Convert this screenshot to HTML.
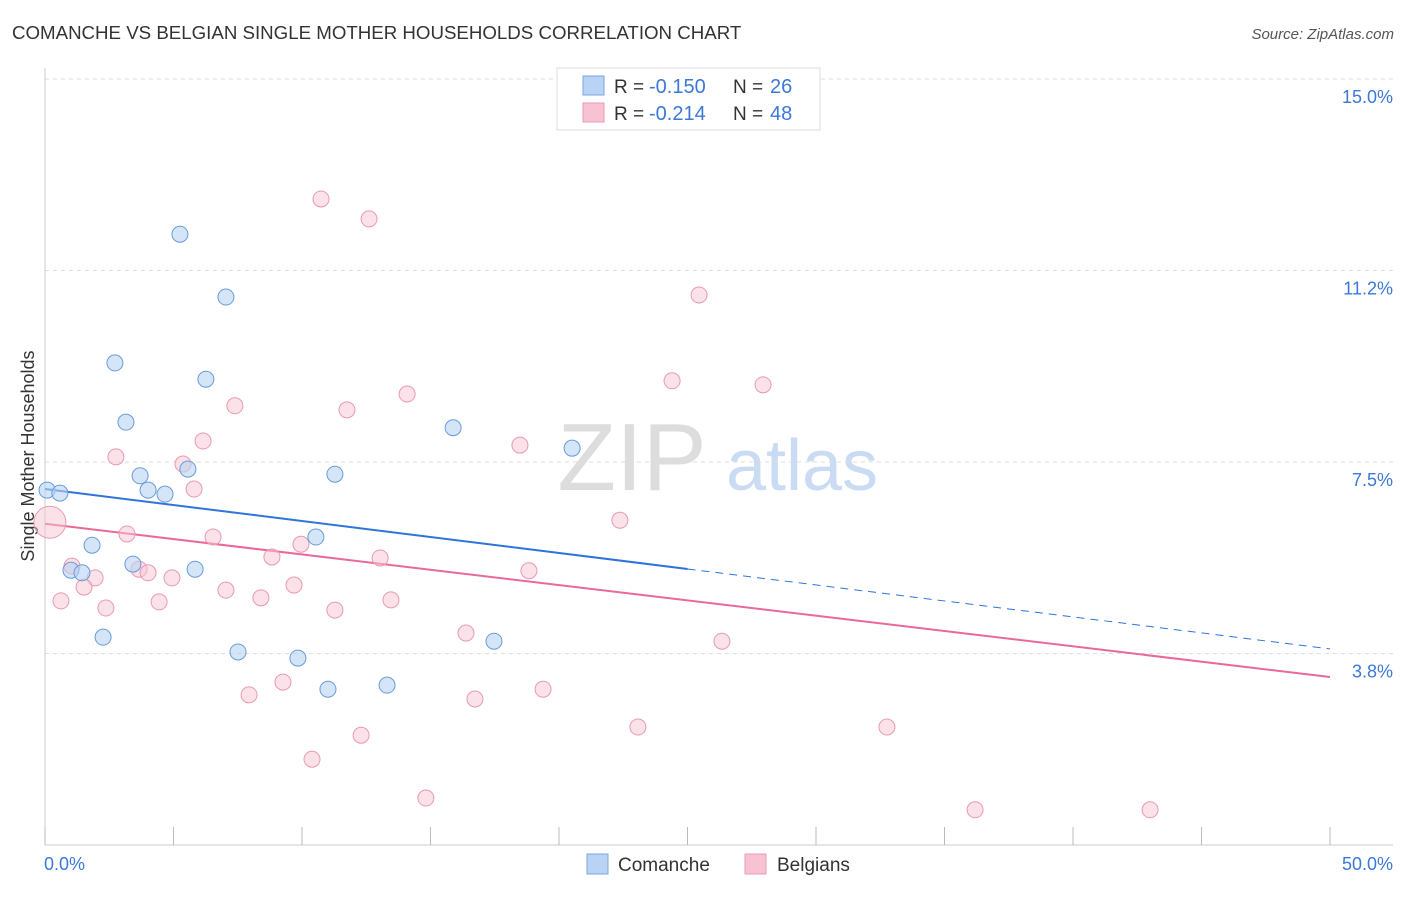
<!DOCTYPE html>
<html><head><meta charset="utf-8">
<style>
body{margin:0;background:#fff;font-family:"Liberation Sans",sans-serif;}
svg text{font-family:"Liberation Sans",sans-serif;}
</style></head>
<body>
<svg id="chart" width="1406" height="892" xmlns="http://www.w3.org/2000/svg">
<text x="12" y="39" font-size="18.7" fill="#333">COMANCHE VS BELGIAN SINGLE MOTHER HOUSEHOLDS CORRELATION CHART</text>
<text x="1394" y="39" font-size="15" fill="#555" font-style="italic" text-anchor="end">Source: ZipAtlas.com</text>
<g>
<text x="632" y="490" font-size="96" font-family="Liberation Serif" fill="#ddd" text-anchor="middle">ZIP</text>
<text x="802" y="490" font-size="72" fill="#c9dcf3" text-anchor="middle">atlas</text>
</g>
<g id="grid"></g>
<line x1="45" y1="68" x2="45" y2="845" stroke="#ccc"/>
<line x1="45" y1="845" x2="1393" y2="845" stroke="#ccc"/>
<g id="xticks"></g>
<text x="44" y="870" font-size="18" fill="#3b78d8">0.0%</text>
<text x="1393" y="870" font-size="18" fill="#3b78d8" text-anchor="end">50.0%</text>
<text transform="translate(34,456) rotate(-90)" font-size="18" fill="#333" text-anchor="middle">Single Mother Households</text>
<g id="lines"></g>
<g id="points"></g>
<g>
<rect x="557" y="68" width="263" height="62" fill="#fff" stroke="#ddd"/>
<rect x="583" y="76" width="21" height="19" fill="#b8d3f3" stroke="#7aa6e0"/>
<rect x="583" y="103" width="21" height="19" fill="#f7c3d2" stroke="#e89ab3"/>
<text x="614" y="93" font-size="19" fill="#333">R =</text>
<text x="649" y="93" font-size="20" fill="#3b78d8">-0.150</text>
<text x="733" y="93" font-size="19" fill="#333">N =</text>
<text x="770" y="93" font-size="20" fill="#3b78d8">26</text>
<text x="614" y="120" font-size="19" fill="#333">R =</text>
<text x="649" y="120" font-size="20" fill="#3b78d8">-0.214</text>
<text x="733" y="120" font-size="19" fill="#333">N =</text>
<text x="770" y="120" font-size="20" fill="#3b78d8">48</text>
</g>
<g>
<rect x="587" y="854" width="21" height="20" fill="#b8d3f3" stroke="#7aa6e0"/>
<text x="618" y="871" font-size="19" fill="#333">Comanche</text>
<rect x="745" y="854" width="21" height="20" fill="#f7c3d2" stroke="#e89ab3"/>
<text x="777" y="871" font-size="19" fill="#333">Belgians</text>
</g>
</svg>
<script>
const yTicks=[15.0,11.25,7.5,3.75];
const yTickLabels=["15.0%","11.2%","7.5%","3.8%"];
const xTicks=[0,5,10,15,20,25,30,35,40,45,50];
const blueX=[0.08,0.58,5.25,7.04,2.72,6.26,3.15,3.70,4.01,4.67,5.56,1.83,1.01,1.44,3.42,5.84,2.26,7.51,9.84,11.01,13.31,10.54,11.28,15.88,20.51,17.47];
const blueY=[6.95,6.89,11.96,10.73,9.44,9.12,8.28,7.23,6.95,6.87,7.36,5.87,5.38,5.33,5.50,5.40,4.07,3.78,3.66,3.05,3.13,6.03,7.26,8.17,7.77,3.99];
const pinkX=[0.19,10.74,12.61,25.45,24.40,27.94,7.39,11.75,14.09,6.15,2.76,5.37,5.80,18.48,22.37,3.19,6.54,9.96,8.83,13.04,1.05,3.66,1.95,4.01,4.94,1.52,18.83,0.62,2.37,4.44,7.04,8.40,9.69,11.28,13.46,16.38,26.34,7.94,9.26,16.73,19.38,12.30,10.39,23.07,32.76,14.82,36.19,43.00];
const pinkY=[6.32,12.65,12.26,10.77,9.09,9.01,8.60,8.52,8.83,7.91,7.60,7.46,6.97,7.83,6.36,6.09,6.03,5.89,5.64,5.62,5.46,5.40,5.23,5.33,5.23,5.05,5.37,4.78,4.64,4.76,4.99,4.84,5.09,4.60,4.80,4.15,3.99,2.94,3.19,2.86,3.05,2.15,1.68,2.31,2.31,0.92,0.69,0.69];
const pinkR=[16,8,8,8,8,8,8,8,8,8,8,8,8,8,8,8,8,8,8,8,8,8,8,8,8,8,8,8,8,8,8,8,8,8,8,8,8,8,8,8,8,8,8,8,8,8,8,8];
const blueTrend=[6.97,3.84];
const pinkTrend=[6.29,3.29];
const blueSolidEnd=25;
const NS="http://www.w3.org/2000/svg";
const sx=v=>45+v*25.7;
const sy=v=>845-v*51.07;
function mk(tag,attrs,parent){const e=document.createElementNS(NS,tag);for(const k in attrs)e.setAttribute(k,attrs[k]);document.getElementById(parent).appendChild(e);return e;}
yTicks.forEach((t,i)=>{
 const l=mk('line',{x1:45,x2:1393,y1:sy(t),y2:sy(t),stroke:'#ddd','stroke-dasharray':'4,4'},'grid');
 
 
 const tx=mk('text',{x:1393,y:sy(t)+24,'font-size':18,fill:'#3b78d8','text-anchor':'end'},'grid');
 tx.textContent=yTickLabels[i];
 
 
});
xTicks.forEach(t=>{
 const l=mk('line',{x1:sx(t),x2:sx(t),y1:827,y2:845,stroke:'#bbb'},'xticks');
 
 
});
const by=x=>blueTrend[0]+(blueTrend[1]-blueTrend[0])*x/50;
const py=x=>pinkTrend[0]+(pinkTrend[1]-pinkTrend[0])*x/50;
let l1=mk('line',{x1:sx(0),y1:sy(by(0)),x2:sx(blueSolidEnd),y2:sy(by(blueSolidEnd)),stroke:'#2f74d8','stroke-width':2},'lines');


let l2=mk('line',{x1:sx(blueSolidEnd),y1:sy(by(blueSolidEnd)),x2:sx(50),y2:sy(by(50)),stroke:'#2f74d8','stroke-width':1,'stroke-dasharray':'8,6'},'lines');


let l3=mk('line',{x1:sx(0),y1:sy(py(0)),x2:sx(50),y2:sy(py(50)),stroke:'#e8699a','stroke-width':2},'lines');


pinkX.forEach((x,i)=>{
 const c=mk('circle',{cx:sx(x),cy:sy(pinkY[i]),r:pinkR[i],fill:'#f7c3d2','fill-opacity':0.5,stroke:'#e89ab3','stroke-width':1},'points');
 
 
});
blueX.forEach((x,i)=>{
 const c=mk('circle',{cx:sx(x),cy:sy(blueY[i]),r:8,fill:'#b8d3f3','fill-opacity':0.6,stroke:'#6a9bdc','stroke-width':1},'points');
 
 
});
</script>
</body></html>
